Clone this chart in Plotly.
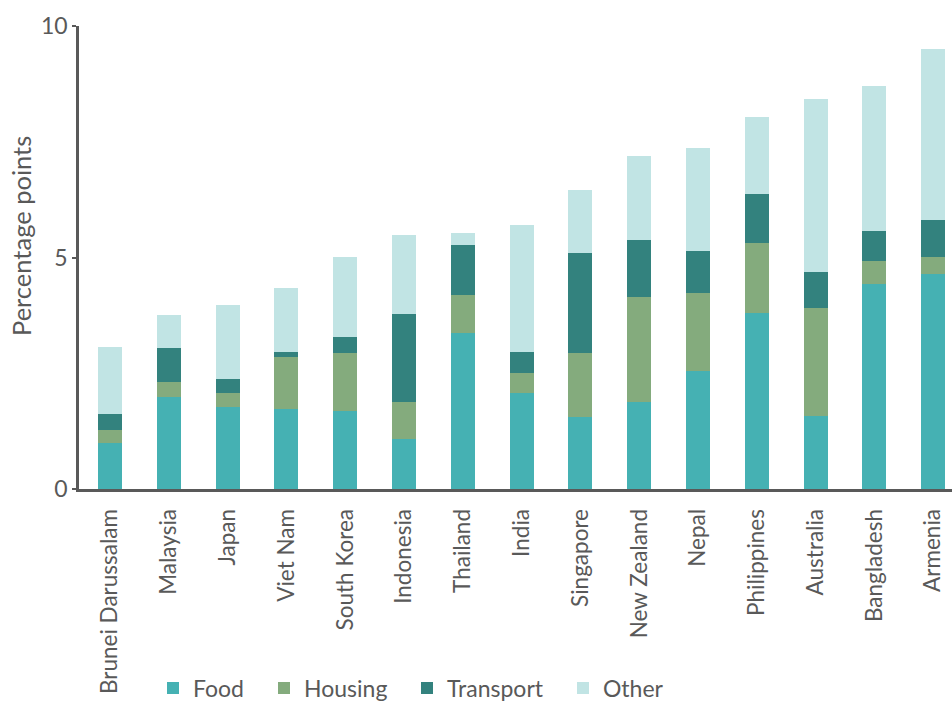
import plotly.graph_objects as go

countries = ["Brunei Darussalam", "Malaysia", "Japan", "Viet Nam", "South Korea", "Indonesia",
             "Thailand", "India", "Singapore", "New Zealand", "Nepal", "Philippines",
             "Australia", "Bangladesh", "Armenia"]
food = [0.99, 1.98, 1.78, 1.73, 1.68, 1.09, 3.37, 2.07, 1.55, 1.88, 2.54, 3.81, 1.57, 4.42, 4.65]
housing = [0.28, 0.34, 0.29, 1.12, 1.26, 0.79, 0.81, 0.44, 1.39, 2.26, 1.69, 1.51, 2.34, 0.51, 0.36]
transport = [0.35, 0.72, 0.30, 0.11, 0.35, 1.90, 1.10, 0.44, 2.15, 1.23, 0.92, 1.05, 0.77, 0.64, 0.80]
other = [1.45, 0.72, 1.61, 1.38, 1.72, 1.70, 0.25, 2.75, 1.36, 1.83, 2.22, 1.67, 3.74, 3.13, 3.69]
y_ticks = [0, 5, 10]

series = [("Food", food, "#45B1B3"), ("Housing", housing, "#84AB7D"),
          ("Transport", transport, "#33827E"), ("Other", other, "#C1E4E4")]

FONT = "Lato"
GREY = "#595959"

L, T, W, H = 79, 26, 952, 702
PW = W - L
PH = 489 - T

# legend item left positions (px)
leg_px = [153, 264, 407, 563]
leg_names = ["legend", "legend2", "legend3", "legend4"]

fig = go.Figure()
for (name, vals, col), lg in zip(series, leg_names):
    fig.add_trace(go.Bar(x=countries, y=vals, name=name, marker_color=col,
                         marker_line_width=0, legend=lg))

layout_legends = {}
for lg, px in zip(leg_names, leg_px):
    layout_legends[lg] = dict(orientation="h", x=(px - L) / PW, y=(489 - 688) / PH,
                              xanchor="left", yanchor="middle",
                              font=dict(size=23, color=GREY, family=FONT),
                              itemwidth=30, bgcolor="rgba(0,0,0,0)")

fig.update_layout(
    width=W, height=H,
    margin=dict(l=L, r=0, t=T, b=H - 489, autoexpand=False),
    barmode="stack", bargap=0.59,
    plot_bgcolor="white", paper_bgcolor="white",
    font=dict(family=FONT, color=GREY, size=20),
    showlegend=True,
    **layout_legends,
)
fig.update_xaxes(
    type="category", range=[-0.527, 14.32],
    showline=True, linecolor=GREY, linewidth=3,
    tickangle=-90, ticks="", tickfont=dict(size=22.5, color=GREY),
    ticklabelstandoff=8, showgrid=False,
)
fig.update_yaxes(
    range=[0, 10], tickvals=y_ticks, showline=True, linecolor=GREY, linewidth=2.5,
    ticks="outside", ticklen=4, tickcolor=GREY, tickwidth=2,
    tickfont=dict(size=23, color=GREY), showgrid=False, zeroline=False,
    ticklabelstandoff=0,
)
fig.add_annotation(text="Percentage points", xref="paper", yref="paper",
                   x=(21 - L) / PW, y=(489 - 236) / PH, xanchor="center", yanchor="middle",
                   textangle=-90, showarrow=False, font=dict(size=25.5, color=GREY, family=FONT))

fig.write_html("out.html", config={"displayModeBar": False},
               post_script="document.body.style.margin='0';document.body.style.overflow='hidden';")
